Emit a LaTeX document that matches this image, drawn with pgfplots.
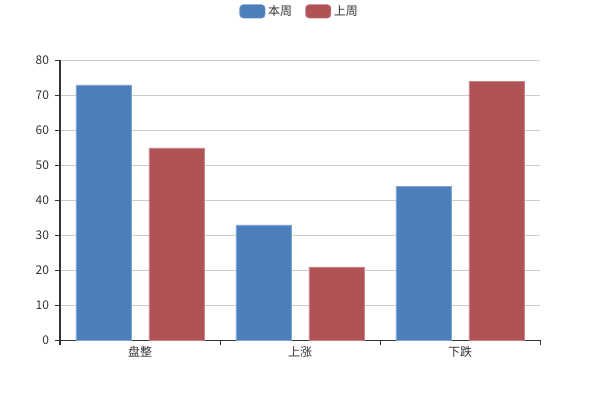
\documentclass[border=0pt]{standalone}
\usepackage{pgfplots}
\pgfplotsset{compat=1.18}
\usepackage{fontspec}
\setmainfont{Noto Sans CJK SC}
\definecolor{cblue}{RGB}{76,127,187}
\definecolor{cred}{RGB}{175,83,87}
\definecolor{txt}{RGB}{51,51,51}
\definecolor{gridc}{RGB}{204,204,204}
\begin{document}
\begin{tikzpicture}
\begin{axis}[
  name=ax,
  scale only axis, width=360pt, height=210pt,
  xmin=-0.5, xmax=2.5, ymin=0, ymax=80,
  ytick={0,10,...,80},
  xtick={-0.5,0.5,1.5,2.5}, xticklabels={},
  major tick length=3.75pt,
  extra x ticks={0,1,2}, extra x tick labels={盘整,上涨,下跌},
  extra x tick style={major tick length=0pt, tick style={draw=none}},
  axis x line*=bottom, axis y line*=left,
  axis line style={draw=txt, line width=0.75pt},
  tick style={draw=txt, line width=0.75pt},
  tick align=outside,
  ymajorgrids, grid style={gridc, line width=0.6pt},
  tick label style={font=\fontsize{9}{10}\selectfont, text=txt},
  /pgf/number format/assume math mode=true,
  xticklabel style={yshift=-1pt},
  yticklabel style={xshift=-1pt},
  ybar, bar width=0.345,
  legend style={at={(0.5,1.0)}, yshift=36.75pt, anchor=center, legend columns=2, draw=none, fill=none,
    font=\fontsize{9}{10}\selectfont, text=txt,
    /tikz/every even column/.append style={column sep=8pt}},
  legend image code/.code={\fill[rounded corners=2.5pt] (0pt,-5pt) rectangle (19pt,5pt);},
]
\addplot[fill=cblue, draw=cblue!70!white, bar shift=-0.228] coordinates {(0,73) (1,33) (2,44)};
\addplot[fill=cred, draw=cred!70!white, bar shift=0.228] coordinates {(0,55) (1,21) (2,74)};
\legend{本周,上周}
\end{axis}
\path[use as bounding box] (ax.south west) ++(-45pt,-45pt) rectangle ++(450pt,300pt);
\end{tikzpicture}
\end{document}
